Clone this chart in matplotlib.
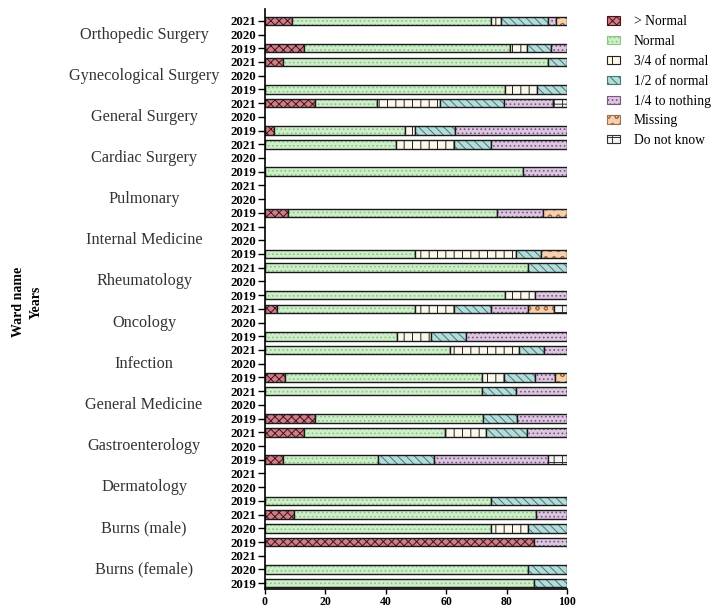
import numpy as np
import matplotlib
matplotlib.use('Agg')
import matplotlib.pyplot as plt
from matplotlib.patches import Patch
import matplotlib.transforms as mtransforms

plt.rcParams['font.family'] = ['Liberation Serif', 'DejaVu Serif']
plt.rcParams['hatch.linewidth'] = 0.7

# Wards (top to bottom) and years per ward
wards = ['Orthopedic Surgery', 'Gynecological Surgery', 'General Surgery', 'Cardiac Surgery',
         'Pulmonary', 'Internal Medicine', 'Rheumatology', 'Oncology', 'Infection',
         'General Medicine', 'Gastroenterology', 'Dermatology', 'Burns (male)', 'Burns (female)']
years = ['2021', '2020', '2019']

categories = ['> Normal', 'Normal', '3/4 of normal', '1/2 of normal',
              '1/4 to nothing', 'Missing', 'Do not know']

# percentages per row (ward x year, same order as above)
above_normal = [9.0, 0, 12.9, 6.1, 0, 0, 16.5, 0, 2.9, 0, 0, 0, 0, 0, 7.6, 0, 0, 0, 0, 0, 0,
                4.0, 0, 0, 0, 0, 6.6, 0, 0, 16.5, 12.9, 0, 6.1, 0, 0, 0, 9.6, 0, 88.9, 0, 0, 0]
normal = [65.7, 0, 68.3, 87.6, 0, 79.6, 20.6, 0, 43.3, 43.4, 0, 85.5, 0, 0, 69.1, 0, 0, 49.6,
          87.2, 0, 79.6, 45.6, 0, 43.8, 61.1, 0, 65.3, 71.9, 0, 55.7, 46.7, 0, 31.2, 0, 0, 74.7,
          80.0, 74.7, 0, 0, 87.2, 88.9]
three_quarter = [3.3, 0, 5.6, 0, 0, 10.4, 20.9, 0, 3.4, 19.1, 0, 0, 0, 0, 0, 0, 0, 33.5,
                 0, 0, 9.8, 12.9, 0, 11.3, 23.1, 0, 7.3, 0, 0, 0, 13.7, 0, 0, 0, 0, 0,
                 0, 12.5, 0, 0, 0, 0]
half = [15.6, 0, 7.9, 6.3, 0, 10.0, 21.2, 0, 13.4, 12.2, 0, 0, 0, 0, 0, 0, 0, 8.3,
        12.8, 0, 0, 12.2, 0, 11.3, 8.0, 0, 10.2, 11.2, 0, 11.1, 13.3, 0, 18.7, 0, 0, 25.3,
        0, 12.8, 0, 0, 12.8, 11.1]
quarter = [2.8, 0, 5.3, 0, 0, 0, 16.3, 0, 37.0, 25.3, 0, 14.5, 0, 0, 15.3, 0, 0, 0,
           0, 0, 10.6, 12.5, 0, 33.6, 7.8, 0, 6.7, 16.9, 0, 16.7, 13.4, 0, 37.7, 0, 0, 0,
           10.4, 0, 11.1, 0, 0, 0]
missing = [3.6, 0, 0, 0, 0, 0, 0, 0, 0, 0, 0, 0, 0, 0, 8.0, 0, 0, 8.6,
           0, 0, 0, 8.6, 0, 0, 0, 0, 3.9, 0, 0, 0, 0, 0, 0, 0, 0, 0,
           0, 0, 0, 0, 0, 0]
dont_know = [0, 0, 0, 0, 0, 0, 4.5, 0, 0, 0, 0, 0, 0, 0, 0, 0, 0, 0,
             0, 0, 0, 4.2, 0, 0, 0, 0, 0, 0, 0, 0, 0, 0, 6.3, 0, 0, 0,
             0, 0, 0, 0, 0, 0]

series = [above_normal, normal, three_quarter, half, quarter, missing, dont_know]
faces = ['#c98088', '#cdeec8', '#fbf7ea', '#b5dcd8', '#dcc6e0', '#f6cfae', '#f4f4f4']
hatch_cols = ['#4f0e18', '#8cc488', '#222222', '#3f7a7a', '#7a5582', '#a0704a', '#333333']
hatches = ['xxxx', '....', '||', '\\\\\\\\', '....', 'oo', '++']

fig = plt.figure(figsize=(7.16, 6.10), dpi=100)
ax = fig.add_axes([0.370, 0.035, 0.422, 0.950])

ypos = np.arange(len(wards) * len(years))
left = np.zeros(len(ypos))
for vals, fc, hc, ht in zip(series, faces, hatch_cols, hatches):
    vals = np.array(vals)
    m = vals > 0
    ax.barh(ypos[m], vals[m], left=left[m], height=0.62, color=fc, edgecolor=hc,
            hatch=ht, linewidth=0)
    ax.barh(ypos[m], vals[m], left=left[m], height=0.62, fill=False, edgecolor='#1a1a1a',
            linewidth=1.0)
    left = left + vals

ax.set_xlim(0, 100)
ax.set_ylim(41.4, -0.85)
ax.set_xticks([0, 20, 40, 60, 80, 100])
ax.set_yticks(ypos)
ax.set_yticklabels(years * len(wards), fontweight='bold', fontsize=9.3)
for lab in ax.get_xticklabels():
    lab.set_fontweight('bold')
    lab.set_fontsize(8.5)
ax.tick_params(axis='y', length=5, width=1, pad=1)
ax.tick_params(axis='x', length=3.5, width=1, pad=1.5)
ax.spines['top'].set_visible(False)
ax.spines['right'].set_visible(False)
ax.spines['left'].set_linewidth(1.2)
ax.spines['bottom'].set_linewidth(1.2)

# ward names next to the 2020 row of each ward
trans = mtransforms.blended_transform_factory(ax.transAxes, ax.transData)
for i, w in enumerate(wards):
    ax.text(-0.40, i * 3 + 1, w, transform=trans, ha='center', va='center',
            fontsize=11.7, color='#333333')

fig.text(0.038, 0.505, 'Ward name\nYears', rotation=90, ha='center', va='center',
         fontsize=10, fontweight='bold', linespacing=1.5)

handles = [Patch(facecolor=fc, edgecolor=hc, hatch=ht, linewidth=0.8)
           for fc, hc, ht in zip(faces, hatch_cols, hatches)]
fig.legend(handles, categories, loc='upper left', bbox_to_anchor=(0.83, 0.995),
           frameon=False, fontsize=9.8, handlelength=1.0, handleheight=0.55,
           handletextpad=1.0, labelspacing=0.5)

plt.savefig('out.png', dpi=100)
